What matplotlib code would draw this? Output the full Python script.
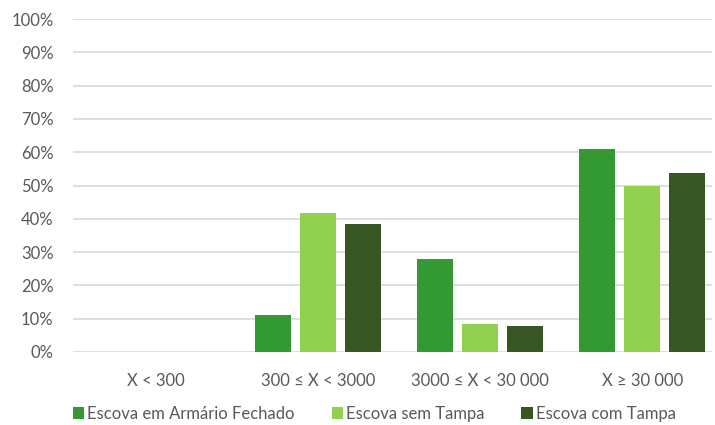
import numpy as np
import matplotlib
matplotlib.use("Agg")
import matplotlib.pyplot as plt
from matplotlib.ticker import PercentFormatter

plt.rcParams['font.family'] = ['Lato', 'DejaVu Sans']

categories = ["X < 300", "300 ≤ X < 3000", "3000 ≤ X < 30 000", "X ≥ 30 000"]
series_names = ["Escova em Armário Fechado", "Escova sem Tampa", "Escova com Tampa"]
armario_fechado = [0, 11.1, 27.8, 61.1]
sem_tampa = [0, 41.7, 8.3, 50.0]
com_tampa = [0, 38.5, 7.7, 53.8]
colors = ["#339933", "#92D050", "#375623"]

text_color = "#595959"
grid_color = "#D9D9D9"

fig = plt.figure(figsize=(7.15, 4.25), dpi=100)
ax = fig.add_axes([73 / 715, 73 / 425, 639 / 715, 333 / 425])

x = np.arange(len(categories))
width = 0.222
step = 0.278
for i, (vals, name) in enumerate(zip([armario_fechado, sem_tampa, com_tampa], series_names)):
    ax.bar(x + (i - 1) * step, vals, width, color=colors[i], label=name, zorder=3)

ax.set_ylim(0, 100)
ax.set_xlim(-0.51, 3.43)
ax.set_yticks(np.arange(0, 101, 10))
ax.yaxis.set_major_formatter(PercentFormatter(decimals=0))
ax.set_xticks(x)
ax.set_xticklabels(categories)
ax.grid(axis='y', color=grid_color, linewidth=1.2, zorder=0)
ax.tick_params(axis='both', length=0, labelsize=12, colors=text_color)
ax.tick_params(axis='y', pad=14)
ax.tick_params(axis='x', pad=15)
for s in ax.spines.values():
    s.set_visible(False)

fig.legend(loc='center left', bbox_to_anchor=(66 / 715, 1 - 414 / 425), ncol=3,
           frameon=False, fontsize=12, labelcolor=text_color,
           handlelength=0.68, handleheight=0.68, handletextpad=0.2,
           columnspacing=2.2, borderaxespad=0)

fig.savefig("out.png", dpi=100)
